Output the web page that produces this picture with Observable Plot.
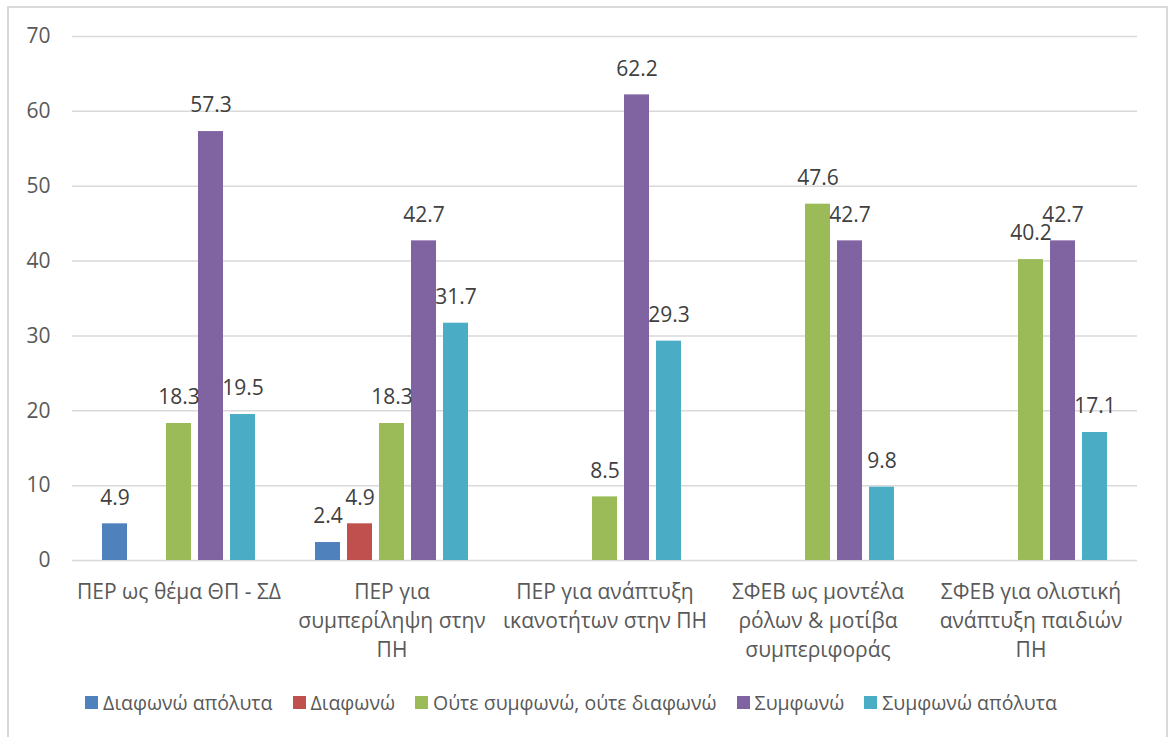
<!DOCTYPE html>
<html>
<head>
<meta charset="utf-8">
<script src="https://cdn.jsdelivr.net/npm/d3@7"></script>
<script src="https://cdn.jsdelivr.net/npm/@observablehq/plot@0.6"></script>
<style>
  html, body { margin: 0; padding: 0; background: #fff; }
  body { width: 1172px; height: 737px; position: relative; overflow: hidden; font-family: "Open Sans", sans-serif; }
  #frame { position: absolute; left: 7px; top: 6px; width: 1161px; height: 760px; border: 2px solid #d9d9d9; box-sizing: border-box; }
  #chart { position: absolute; left: 0; top: 0; }
  #legend { position: absolute; left: 0; top: 689px; width: 1142px; display: flex; justify-content: center; align-items: center; gap: 20px; color: #595959; font-size: 19.5px; }
  .item { display: flex; align-items: center; gap: 5px; white-space: nowrap; }
  .sw { width: 13px; height: 13px; display: inline-block; }
</style>
</head>
<body>
<div id="frame"></div>
<div id="chart"></div>
<div id="legend"></div>
<script>
const categories = [
  "ΠΕΡ ως θέμα ΘΠ - ΣΔ",
  "ΠΕΡ για συμπερίληψη στην ΠΗ",
  "ΠΕΡ για ανάπτυξη ικανοτήτων στην ΠΗ",
  "ΣΦΕΒ ως μοντέλα ρόλων & μοτίβα συμπεριφοράς",
  "ΣΦΕΒ για ολιστική ανάπτυξη παιδιών ΠΗ"
];
const categoryLabels = [
  "ΠΕΡ ως θέμα ΘΠ - ΣΔ",
  "ΠΕΡ για\nσυμπερίληψη στην\nΠΗ",
  "ΠΕΡ για ανάπτυξη\nικανοτήτων στην ΠΗ",
  "ΣΦΕΒ ως μοντέλα\nρόλων & μοτίβα\nσυμπεριφοράς",
  "ΣΦΕΒ για ολιστική\nανάπτυξη παιδιών\nΠΗ"
];
const series = ["Διαφωνώ απόλυτα", "Διαφωνώ", "Ούτε συμφωνώ, ούτε διαφωνώ", "Συμφωνώ", "Συμφωνώ απόλυτα"];
const colors = ["#4F81BD", "#C0504D", "#9BBB59", "#8064A2", "#4BACC6"];
const disagreeFully = [4.9, 2.4, null, null, null];
const disagree = [null, 4.9, null, null, null];
const neutral = [18.3, 18.3, 8.5, 47.6, 40.2];
const agree = [57.3, 42.7, 62.2, 42.7, 42.7];
const agreeFully = [19.5, 31.7, 29.3, 9.8, 17.1];
const yTicks = [0, 10, 20, 30, 40, 50, 60, 70];

const seriesValues = [disagreeFully, disagree, neutral, agree, agreeFully];
const data = [];
categories.forEach((c, i) => {
  series.forEach((s, j) => {
    const v = seriesValues[j][i];
    if (v != null) data.push({category: c, series: s, value: v});
  });
});
const labelOf = new Map(categories.map((c, i) => [c, categoryLabels[i]]));

const chart = Plot.plot({
  width: 1172,
  height: 680,
  marginTop: 36,
  marginLeft: 70,
  marginRight: 34,
  marginBottom: 120,
  style: {fontFamily: "'Open Sans', sans-serif", fontSize: "21px", color: "#595959", background: "transparent"},
  fx: {domain: categories, padding: 0, paddingOuter: 0, label: null},
  x: {domain: series, paddingInner: 0.21, paddingOuter: 0.84, axis: null},
  y: {domain: [0, 70], label: null},
  color: {domain: series, range: colors},
  marks: [
    Plot.ruleY(yTicks, {stroke: "#d9d9d9", strokeWidth: 1.5}),
    Plot.barY(data, {fx: "category", x: "series", y: "value", fill: "series"}),
    Plot.text(data, {fx: "category", x: "series", y: "value", text: d => d.value.toFixed(1), dy: -26, fill: "#404040", fontSize: 21}),
    Plot.axisY({ticks: yTicks, tickSize: 0, tickPadding: 22, fill: "#595959", fontSize: 21, label: null}),
    Plot.axisFx({anchor: "bottom", tickSize: 0, tickPadding: 18, lineHeight: 1.38, fill: "#595959", fontSize: 21, tickFormat: d => labelOf.get(d), label: null})
  ]
});
document.getElementById("chart").appendChild(chart);

const legend = document.getElementById("legend");
series.forEach((s, j) => {
  const item = document.createElement("div");
  item.className = "item";
  const sw = document.createElement("span");
  sw.className = "sw";
  sw.style.background = colors[j];
  const t = document.createElement("span");
  t.textContent = s;
  item.appendChild(sw);
  item.appendChild(t);
  legend.appendChild(item);
});
</script>
</body>
</html>
